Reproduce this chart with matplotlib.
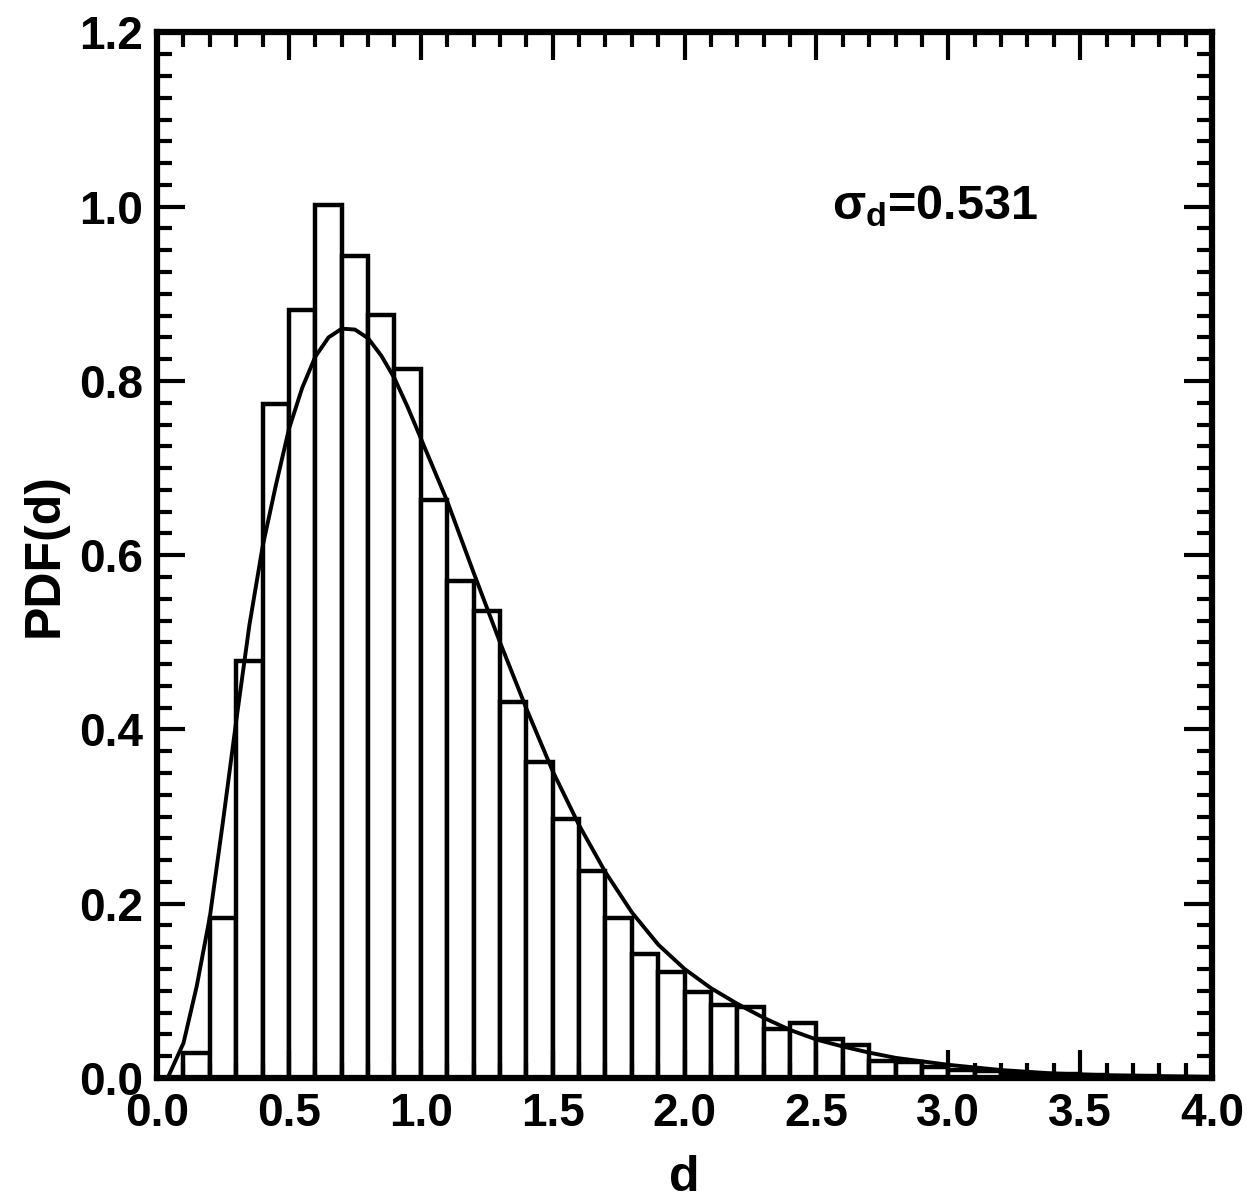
import numpy as np
import matplotlib.pyplot as plt
from matplotlib.ticker import MultipleLocator

plt.rcParams['font.family'] = ['Liberation Sans', 'DejaVu Sans']
plt.rcParams['font.weight'] = 'bold'
plt.rcParams['mathtext.fontset'] = 'custom'
plt.rcParams['mathtext.rm'] = 'Liberation Sans:bold'
plt.rcParams['mathtext.it'] = 'Liberation Sans:bold'
plt.rcParams['mathtext.bf'] = 'Liberation Sans:bold'

# histogram of d, bins of width 0.1 starting at d = 0.1
BIN_START = 0.1
BIN_WIDTH = 0.1
pdf_hist = [0.029, 0.183, 0.479, 0.773, 0.882, 1.002, 0.944, 0.876, 0.814, 0.663,
            0.570, 0.536, 0.431, 0.363, 0.297, 0.238, 0.183, 0.142, 0.121, 0.099,
            0.084, 0.081, 0.056, 0.063, 0.045, 0.038, 0.019, 0.018, 0.013, 0.009,
            0.008, 0.006, 0.005, 0.004, 0.003, 0.002, 0.002, 0.001, 0.001]

# fitted curve
fit_d = [0.04, 0.1, 0.15, 0.2, 0.25, 0.3, 0.35, 0.4, 0.45, 0.5, 0.55, 0.6, 0.65,
         0.7, 0.75, 0.8, 0.85, 0.9, 0.95, 1.0, 1.1, 1.2, 1.3, 1.4, 1.5, 1.6, 1.7,
         1.8, 1.9, 2.0, 2.1, 2.2, 2.3, 2.4, 2.5, 2.6, 2.7, 2.8, 2.9, 3.0, 3.2,
         3.4, 3.6, 3.8, 4.0]
fit_pdf = [0.0, 0.04, 0.105, 0.185, 0.295, 0.41, 0.52, 0.61, 0.68, 0.745, 0.792,
           0.828, 0.850, 0.860, 0.859, 0.849, 0.829, 0.803, 0.77, 0.734, 0.662, 0.58,
           0.5, 0.424, 0.352, 0.29, 0.236, 0.19, 0.153, 0.125, 0.103, 0.085, 0.069,
           0.055, 0.044, 0.036, 0.029, 0.023, 0.019, 0.015, 0.009, 0.005, 0.003,
           0.002, 0.001]

sigma_d = 0.531

fig = plt.figure(figsize=(12.47, 12.03), dpi=100)
ax = fig.add_axes([0.126, 0.104, 0.846, 0.869])

left_edges = BIN_START + BIN_WIDTH * np.arange(len(pdf_hist))
ax.bar(left_edges, pdf_hist, width=BIN_WIDTH, align='edge',
       facecolor='white', edgecolor='black', linewidth=3.2)
ax.plot(fit_d, fit_pdf, color='black', linewidth=2.8, solid_joinstyle='round')

ax.set_xlim(0, 4.0)
ax.set_ylim(0, 1.2)
ax.xaxis.set_major_locator(MultipleLocator(0.5))
ax.xaxis.set_minor_locator(MultipleLocator(0.1))
ax.yaxis.set_major_locator(MultipleLocator(0.2))
ax.yaxis.set_minor_locator(MultipleLocator(0.025))
ax.xaxis.set_major_formatter(plt.FormatStrFormatter('%.1f'))
ax.yaxis.set_major_formatter(plt.FormatStrFormatter('%.1f'))

ax.tick_params(which='both', direction='in', top=True, right=True, width=3)
ax.tick_params(which='major', length=20, labelsize=33, pad=10)
ax.tick_params(which='minor', length=11)
for s in ax.spines.values():
    s.set_linewidth(4.5)

ax.set_xlabel('d', fontsize=36, fontweight='bold', labelpad=14)
ax.set_ylabel('PDF(d)', fontsize=36, fontweight='bold', labelpad=8)

ax.text(2.95, 1.0, r'$\sigma_{d}$=%.3f' % sigma_d, fontsize=35,
        fontweight='bold', ha='center', va='center')

fig.savefig('out.png', dpi=100)
